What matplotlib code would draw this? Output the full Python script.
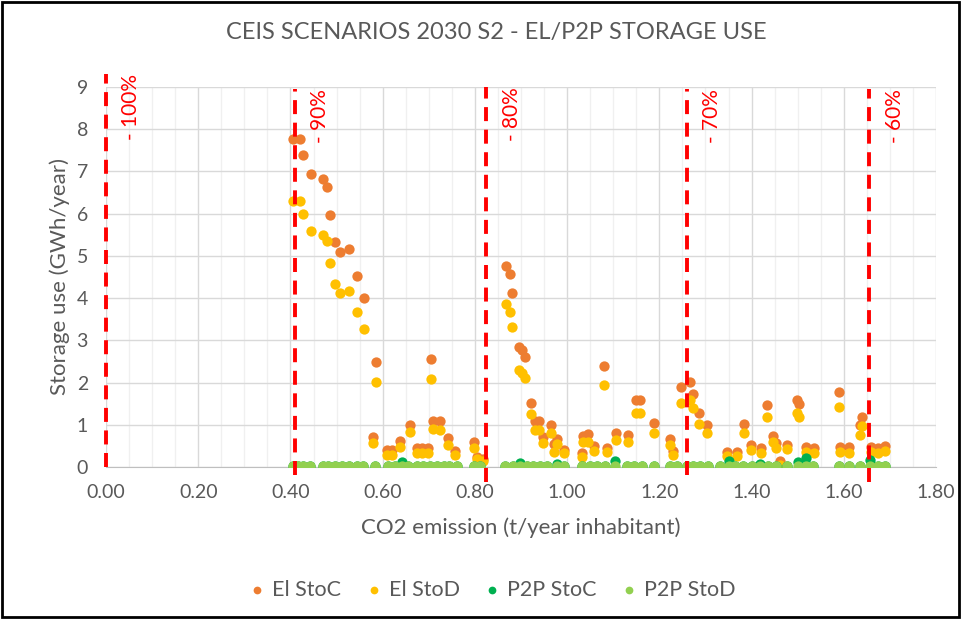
import matplotlib.pyplot as plt
from matplotlib.patches import Rectangle
from matplotlib.ticker import MultipleLocator

plt.rcParams['font.family'] = ['Lato', 'DejaVu Sans']

# El storage: charge / discharge share the same x
el_x = [0.406, 0.421, 0.428, 0.445, 0.471, 0.480, 0.486, 0.497, 0.507, 0.526,
        0.545, 0.560, 0.580, 0.586, 0.610, 0.620, 0.638, 0.659, 0.674, 0.686,
        0.699, 0.705, 0.710, 0.724, 0.741, 0.757, 0.797, 0.804, 0.818,
        0.867, 0.876, 0.880, 0.896, 0.902, 0.909, 0.921, 0.930, 0.938, 0.947,
        0.965, 0.972, 0.977, 0.993, 1.032, 1.034, 1.046, 1.059, 1.079, 1.087,
        1.105, 1.133, 1.149, 1.158, 1.188, 1.223, 1.229, 1.248, 1.267, 1.272,
        1.287, 1.303,
        1.346, 1.368, 1.384, 1.399, 1.420, 1.434, 1.447, 1.454, 1.462, 1.476,
        1.499, 1.503, 1.518, 1.536, 1.590, 1.592, 1.612, 1.636, 1.639, 1.659,
        1.675, 1.690]
el_stoc = [7.76, 7.76, 7.39, 6.93, 6.82, 6.62, 5.97, 5.34, 5.10, 5.16,
           4.52, 4.01, 0.70, 2.48, 0.40, 0.40, 0.62, 0.99, 0.44, 0.44,
           0.44, 2.55, 1.10, 1.10, 0.69, 0.38, 0.60, 0.24, 0.20,
           4.77, 4.56, 4.13, 2.84, 2.77, 2.61, 1.52, 1.09, 1.09, 0.72,
           0.99, 0.55, 0.66, 0.40, 0.32, 0.74, 0.77, 0.50, 2.39, 0.44,
           0.81, 0.76, 1.59, 1.59, 1.05, 0.66, 0.39, 1.90, 2.02, 1.73,
           1.27, 0.99,
           0.36, 0.36, 1.02, 0.52, 0.44, 1.47, 0.73, 0.56, 0.13, 0.52,
           1.59, 1.49, 0.48, 0.44, 1.78, 0.48, 0.48, 0.99, 1.19, 0.48,
           0.44, 0.50]
el_stod = [6.31, 6.31, 5.99, 5.59, 5.49, 5.35, 4.84, 4.33, 4.13, 4.17,
           3.68, 3.26, 0.56, 2.01, 0.28, 0.28, 0.48, 0.82, 0.32, 0.32,
           0.32, 2.08, 0.89, 0.87, 0.53, 0.29, 0.46, 0.20, 0.15,
           3.85, 3.68, 3.32, 2.29, 2.22, 2.10, 1.25, 0.88, 0.88, 0.56,
           0.80, 0.36, 0.54, 0.32, 0.23, 0.60, 0.60, 0.39, 1.93, 0.35,
           0.64, 0.60, 1.29, 1.29, 0.80, 0.52, 0.28, 1.51, 1.59, 1.39,
           1.02, 0.80,
           0.26, 0.26, 0.80, 0.40, 0.34, 1.18, 0.58, 0.44, 0.05, 0.42,
           1.27, 1.19, 0.36, 0.34, 1.43, 0.36, 0.34, 0.76, 0.96, 0.36,
           0.32, 0.38]

# P2P storage
p2p_x = [0.406, 0.417, 0.428, 0.442, 0.471, 0.482, 0.497, 0.511, 0.526, 0.544,
         0.558, 0.583, 0.612, 0.627, 0.641, 0.656, 0.674, 0.688, 0.703, 0.717,
         0.732, 0.743, 0.761, 0.797, 0.811,
         0.865, 0.883, 0.898, 0.912, 0.927, 0.941, 0.956, 0.977, 0.993, 1.032,
         1.050, 1.064, 1.082, 1.104, 1.129, 1.144, 1.162, 1.188, 1.223, 1.238,
         1.259, 1.274, 1.288, 1.306, 1.332, 1.350, 1.364, 1.382, 1.400, 1.418,
         1.436, 1.454, 1.476, 1.501, 1.518, 1.534, 1.590, 1.612, 1.636, 1.657,
         1.675, 1.690]
p2p_stoc = [0.02, 0.02, 0.02, 0.02, 0.02, 0.02, 0.02, 0.02, 0.02, 0.02,
            0.02, 0.02, 0.02, 0.02, 0.12, 0.02, 0.02, 0.02, 0.02, 0.02,
            0.02, 0.02, 0.02, 0.02, 0.02,
            0.02, 0.02, 0.10, 0.02, 0.02, 0.02, 0.02, 0.08, 0.02, 0.02,
            0.02, 0.02, 0.02, 0.15, 0.02, 0.02, 0.02, 0.02, 0.02, 0.02,
            0.02, 0.02, 0.02, 0.02, 0.02, 0.13, 0.02, 0.02, 0.02, 0.06,
            0.02, 0.02, 0.02, 0.12, 0.22, 0.02, 0.02, 0.02, 0.02, 0.17,
            0.02, 0.02]
p2p_stod = [0.03] * len(p2p_x)

# reduction targets (vertical dashed lines)
target_x = [0.0, 0.41, 0.825, 1.26, 1.655]
target_labels = ['- 100%', '- 90%', '- 80%', '- 70%', '- 60%']
target_top = [9.3, 8.95, 9.0, 8.95, 8.95]
target_bottom = [0.0, -0.2, -0.35, -0.2, -0.35]

grey = '#595959'

fig = plt.figure(figsize=(9.61, 6.19), dpi=100)
ax = fig.add_axes([0.1103, 0.2456, 0.8637, 0.6139])

ax.scatter(el_x, el_stoc, s=55, color='#ED7D31', label='El StoC', zorder=3, linewidths=0)
ax.scatter(el_x, el_stod, s=55, color='#FFC000', label='El StoD', zorder=3, linewidths=0)
ax.scatter(p2p_x, p2p_stoc, s=55, color='#00B050', label='P2P StoC', zorder=3, linewidths=0)
ax.scatter(p2p_x, p2p_stod, s=55, color='#92D050', label='P2P StoD', zorder=3, linewidths=0)

for x, lab, top, bot in zip(target_x, target_labels, target_top, target_bottom):
    ax.plot([x, x], [bot, top], color='#FF0000', lw=2.8, ls=(0, (3.6, 2.2)),
            zorder=4, clip_on=False)
    ax.text(x + 0.055, top, lab, rotation=90, va='top', ha='center',
            color='#FF0000', fontsize=15, zorder=5, clip_on=False)

ax.set_xlim(0, 1.8)
ax.set_ylim(0, 9)
ax.xaxis.set_minor_locator(MultipleLocator(0.05))
ax.yaxis.set_major_locator(MultipleLocator(1))
ax.set_xticks([i * 0.2 for i in range(10)])
ax.set_xticklabels(['%.2f' % (i * 0.2) for i in range(10)])
ax.grid(which='major', color='#d9d9d9', lw=1)
ax.grid(which='minor', axis='x', color='#f0f0f0', lw=1)
ax.set_axisbelow(True)
for s in ['top', 'left', 'right']:
    ax.spines[s].set_visible(False)
ax.spines['bottom'].set_color('#bfbfbf')
ax.tick_params(which='both', length=0, labelsize=14, colors=grey)
ax.tick_params(axis='x', pad=12)
ax.tick_params(axis='y', pad=13)

ax.set_xlabel('CO2 emission (t/year inhabitant)', fontsize=16, color=grey, labelpad=12)
ax.set_ylabel('Storage use (GWh/year)', fontsize=16, color=grey, labelpad=5)
fig.suptitle('CEIS SCENARIOS 2030 S2 - EL/P2P STORAGE USE', fontsize=17, color=grey,
             x=0.516, y=0.965)

fig.legend(loc='lower center', bbox_to_anchor=(0.513, 0.0), ncol=4, frameon=False,
           fontsize=15.5, labelcolor=grey, markerscale=0.75, handlelength=0.6,
           handletextpad=0.4, columnspacing=1.2)

fig.patches.append(Rectangle((0.002, 0.003), 0.996, 0.994, transform=fig.transFigure,
                             fill=False, edgecolor='black', lw=2))

fig.savefig('out.png', dpi=100)
